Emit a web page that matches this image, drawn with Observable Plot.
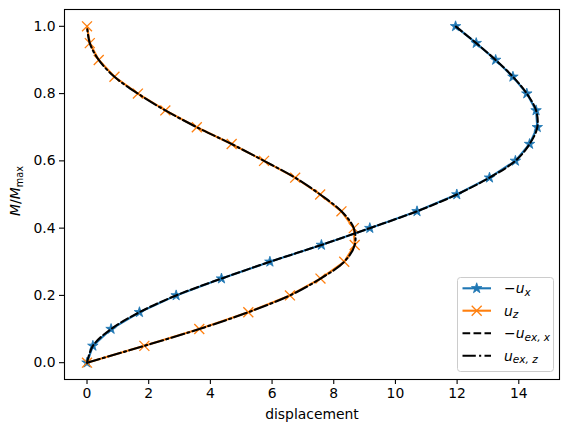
<!DOCTYPE html>
<html>
<head>
<meta charset="utf-8">
<script src="https://cdn.jsdelivr.net/npm/d3@7"></script>
<script src="https://cdn.jsdelivr.net/npm/@observablehq/plot@0.6"></script>
<style>
  body { margin: 0; background: #fff; }
  #wrap { position: relative; width: 569px; height: 432px; font-family: "DejaVu Sans", sans-serif; }
  #wrap svg { position: absolute; left: 0; top: 0; }
</style>
</head>
<body>
<div id="wrap"></div>
<script>
// Load levels M/Mmax
const loadLevels = [0, 0.05, 0.1, 0.15, 0.2, 0.25, 0.3, 0.35, 0.4, 0.45, 0.5,
                    0.55, 0.6, 0.65, 0.7, 0.75, 0.8, 0.85, 0.9, 0.95, 1.0];
// -u_x (numerical)
const negUx = [0, 0.19, 0.78, 1.70, 2.89, 4.36, 5.93, 7.60, 9.17, 10.70, 11.99,
               13.05, 13.89, 14.35, 14.60, 14.56, 14.26, 13.81, 13.25, 12.62, 11.95];
// u_z (numerical)
const uz = [0, 1.86, 3.64, 5.23, 6.58, 7.57, 8.34, 8.68, 8.65, 8.25, 7.56,
            6.75, 5.74, 4.69, 3.56, 2.54, 1.65, 0.89, 0.38, 0.09, 0];
// exact solutions (same load levels)
const negUexX = negUx.slice();
const uexZ = uz.slice();

const xTicks = [0, 2, 4, 6, 8, 10, 12, 14];
const yTicks = [0, 0.2, 0.4, 0.6, 0.8, 1.0];

const blue = "#1f77b4", orange = "#ff7f0e";

const ux = loadLevels.map((m, i) => ({m, u: negUx[i]}));
const uzD = loadLevels.map((m, i) => ({m, u: uz[i]}));
const exX = loadLevels.map((m, i) => ({m, u: negUexX[i]}));
const exZ = loadLevels.map((m, i) => ({m, u: uexZ[i]}));

const W = 569, H = 432;
const plot = Plot.plot({
  width: W, height: H,
  marginLeft: 64, marginRight: 10, marginTop: 9, marginBottom: 53,
  style: {fontFamily: "DejaVu Sans, sans-serif", fontSize: "13.9px", color: "#000", background: "transparent"},
  x: {domain: [-0.73, 15.32], ticks: xTicks, tickFormat: d3.format("d")},
  y: {domain: [-0.05, 1.05], ticks: yTicks, tickFormat: d3.format(".1f")},
  marks: [
    Plot.frame({stroke: "#000", strokeWidth: 1.1}),
    Plot.axisX({ticks: xTicks, tickFormat: d3.format("d"), tickSize: 5, tickPadding: 4, strokeWidth: 1.1,
                label: "displacement", labelAnchor: "center", labelArrow: "none", labelOffset: 39}),
    Plot.axisY({ticks: yTicks, tickFormat: d3.format(".1f"), tickSize: 5, tickPadding: 4, strokeWidth: 1.1, label: null}),
    Plot.line(ux, {x: "u", y: "m", stroke: blue, strokeWidth: 2.1, curve: "linear"}),
    Plot.dot(ux, {x: "u", y: "m", symbol: "star", r: 3.3, fill: blue, stroke: blue, strokeWidth: 0.8}),
    Plot.line(uzD, {x: "u", y: "m", stroke: orange, strokeWidth: 2.1, curve: "linear"}),
    Plot.dot(uzD, {x: "u", y: "m", symbol: "times", r: 4.6, stroke: orange, strokeWidth: 1.3}),
    Plot.line(exX, {x: "u", y: "m", stroke: "#000", strokeWidth: 2.1, strokeDasharray: "7.7,3.3", curve: "catmull-rom"}),
    Plot.line(exZ, {x: "u", y: "m", stroke: "#000", strokeWidth: 2.1, strokeDasharray: "13.3,3.3,2.1,3.3", curve: "catmull-rom"})
  ]
});
document.getElementById("wrap").appendChild(plot);

// Overlay: y label and legend
const ov = d3.select("#wrap").append("svg")
  .attr("width", W).attr("height", H)
  .style("font-family", "DejaVu Sans, sans-serif");

const yl = ov.append("text")
  .attr("transform", "translate(20,191) rotate(-90)")
  .attr("text-anchor", "middle")
  .attr("font-size", 13.9);
yl.append("tspan").attr("font-style", "italic").text("M");
yl.append("tspan").text("/");
yl.append("tspan").attr("font-style", "italic").text("M");
yl.append("tspan").attr("font-size", 9.7).attr("dy", 2.5).text("max");

// Legend
const lg = ov.append("g");
lg.append("rect").attr("x", 457.5).attr("y", 277.5).attr("width", 96).attr("height", 94)
  .attr("rx", 3).attr("fill", "#fff").attr("fill-opacity", 0.8).attr("stroke", "#ccc").attr("stroke-width", 1);
const entries = [
  {y: 288.3, stroke: blue, dash: null, marker: "star", parts: [["−", false], ["u", true], ["x", true, true]]},
  {y: 310.7, stroke: orange, dash: null, marker: "times", parts: [["u", true], ["z", true, true]]},
  {y: 333.3, stroke: "#000", dash: "7.7,3.3", marker: null, parts: [["−", false], ["u", true], ["ex, x", true, true]]},
  {y: 355.7, stroke: "#000", dash: "13.3,3.3,2.1,3.3", marker: null, parts: [["u", true], ["ex, z", true, true]]}
];
for (const e of entries) {
  lg.append("line").attr("x1", 462.5).attr("x2", 491).attr("y1", e.y).attr("y2", e.y)
    .attr("stroke", e.stroke).attr("stroke-width", 2.1).attr("stroke-dasharray", e.dash);
  if (e.marker === "star") {
    lg.append("path").attr("d", d3.symbol(d3.symbolStar, Math.PI * 3.3 * 3.3)())
      .attr("transform", `translate(476.7,${e.y})`).attr("fill", blue).attr("stroke", blue).attr("stroke-width", 0.8);
  } else if (e.marker === "times") {
    lg.append("path").attr("d", d3.symbol(d3.symbolTimes, Math.PI * 4.6 * 4.6)())
      .attr("transform", `translate(476.7,${e.y})`).attr("fill", "none").attr("stroke", orange).attr("stroke-width", 1.3);
  }
  const t = lg.append("text").attr("x", 504).attr("y", e.y + 5).attr("font-size", 13.9);
  for (const [s, it, sub] of e.parts) {
    const sp = t.append("tspan").text(s);
    if (it) sp.attr("font-style", "italic");
    if (sub) sp.attr("font-size", 10.5).attr("dy", 2.5);
  }
}
</script>
</body>
</html>
